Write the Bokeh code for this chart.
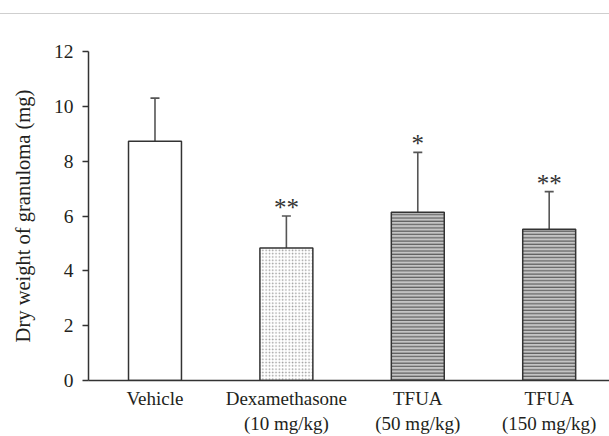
from bokeh.plotting import figure
from bokeh.models import Range1d, FixedTicker, Whisker, ColumnDataSource, Div, TeeHead
from bokeh.layouts import column
from bokeh.embed import file_html
from bokeh.resources import INLINE
from bokeh.core.properties import value

# ---- data ----
categories = ["Vehicle", "Dexamethasone\n(10 mg/kg)", "TFUA\n(50 mg/kg)", "TFUA\n(150 mg/kg)"]
means = [8.73, 4.83, 6.14, 5.52]
sds = [1.57, 1.17, 2.18, 1.37]
marks = ["", "**", "*", "**"]
y_ticks = [0, 2, 4, 6, 8, 10, 12]

# ---- styles (kept apart from data) ----
fill_colors = ["#ffffff", "#ffffff", "#c4c4c4", "#c4c4c4"]
hatch_patterns = [" ", "dot", "horizontal_line", "horizontal_line"]
hatch_colors = ["#ffffff", "#9a9a9a", "#4a4a4a", "#4a4a4a"]
hatch_scales = [4, 3.3, 3.3, 3.3]

FONT = "Liberation Serif"
TXT = "#231f20"
AX = "#333333"

xs = list(range(len(categories)))
src = ColumnDataSource(dict(
    x=xs,
    top=means,
    upper=[m + s for m, s in zip(means, sds)],
    mark=marks,
    fill=fill_colors,
    hp=hatch_patterns,
    hc=hatch_colors,
    hs=hatch_scales,
))

p = figure(width=609, height=422, output_backend="svg", toolbar_location=None,
           x_range=Range1d(-0.506, 3.459), y_range=Range1d(0, 12),
           min_border_left=88, min_border_right=0, min_border_top=37, min_border_bottom=55)
p.outline_line_color = None
p.xgrid.visible = False
p.ygrid.visible = False
p.background_fill_color = "white"
p.border_fill_color = "white"

p.vbar(x="x", top="top", bottom=0, width=0.403, source=src,
       fill_color="fill", line_color=AX, line_width=1.5,
       hatch_pattern="hp", hatch_color="hc", hatch_scale="hs", hatch_weight=1)

wh = Whisker(base="x", upper="upper", lower="top", source=src, dimension="height",
             line_color="#555555", line_width=1.6,
             upper_head=TeeHead(size=9, line_color="#555555", line_width=1.6),
             lower_head=None)
p.add_layout(wh)

p.text(x="x", y="upper", text="mark", source=src, text_align="center",
       text_baseline="bottom", y_offset=5, text_font=value(FONT),
       text_font_size="25px", text_color="#333333")

# axes
p.yaxis.ticker = FixedTicker(ticks=y_ticks)
p.yaxis.axis_label = "Dry weight of granuloma (mg)"
p.yaxis.axis_label_text_font = FONT
p.yaxis.axis_label_text_font_style = "normal"
p.yaxis.axis_label_text_font_size = "20.5px"
p.yaxis.axis_label_text_color = TXT
p.yaxis.axis_label_standoff = 17
p.yaxis.major_label_text_font = FONT
p.yaxis.major_label_text_font_size = "19.5px"
p.yaxis.major_label_text_color = TXT
p.yaxis.major_label_standoff = 9
p.yaxis.major_tick_out = 6
p.yaxis.major_tick_in = 0
p.yaxis.minor_tick_line_color = None
p.yaxis.axis_line_color = AX
p.yaxis.axis_line_width = 1.5
p.yaxis.major_tick_line_color = AX
p.yaxis.major_tick_line_width = 1.5

p.xaxis.ticker = FixedTicker(ticks=xs)
p.xaxis.major_label_overrides = {i: c for i, c in zip(xs, categories)}
p.xaxis.major_label_text_font = FONT
p.xaxis.major_label_text_font_size = "19px"
p.xaxis.major_label_text_color = TXT
p.xaxis.major_label_standoff = 7
p.xaxis.major_tick_out = 0
p.xaxis.major_tick_in = 0
p.xaxis.minor_tick_line_color = None
p.xaxis.axis_line_color = AX
p.xaxis.axis_line_width = 1.5

top_rule = Div(text="", width=609, height=14, margin=(0, 0, 0, 0),
               styles={"border-bottom": "1.5px solid #cfcfcf", "box-sizing": "border-box"})

layout = column(top_rule, p, spacing=0)

with open("out.html", "w") as f:
    f.write(file_html(layout, INLINE))
